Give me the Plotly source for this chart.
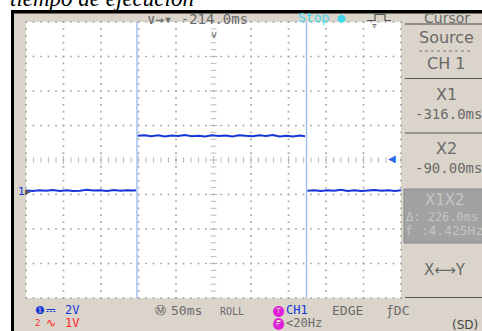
import plotly.graph_objects as go

# ---- scope settings ----
time_per_div = 50.0          # ms/div
volt_per_div = 2.0           # V/div
h_position = -214.0          # ms at screen centre
ch1_offset_divs = 0.9        # ground marker below centre (divs)
trig_level = 1.9             # V
cursor_t = [-316.0, -90.0]   # X1, X2 (ms)

# ---- CH1 capture (ms, V); None splits the edges ----
sig_t = [-464, -455, -446, -437, -428, -419, -410, -401, -392, -383, -374, -365,
         -356, -347, -338, -329, -320, -317, None,
         -315, -306, -297, -288, -279, -270, -261, -252, -243, -234, -225, -216,
         -207, -198, -189, -180, -171, -162, -153, -144, -135, -126, -117, -108,
         -99, -92, None,
         -89, -80, -71, -62, -53, -44, -35, -26, -17, -8, 1, 10, 19, 28, 36]
sig_v = [0.03, 0.0, 0.05, 0.02, 0.06, 0.01, 0.04, 0.0, 0.02, 0.07, 0.03, 0.05,
         0.0, 0.06, 0.02, 0.05, 0.03, 0.04, None,
         3.20, 3.24, 3.18, 3.23, 3.17, 3.22, 3.19, 3.25, 3.18, 3.21, 3.16, 3.23,
         3.19, 3.22, 3.17, 3.24, 3.20, 3.18, 3.23, 3.19, 3.25, 3.17, 3.21, 3.16,
         3.22, 3.18, None,
         0.02, 0.05, 0.0, 0.04, 0.02, 0.07, 0.01, 0.05, 0.0, 0.03, 0.06, 0.02,
         0.05, 0.01, 0.04]

# ---- screen geometry (pixels) ----
W, H = 482, 331
L, R, T, B = 26, 401, 22, 298
PW, PH = R - L, B - T

def px(x):
    return (x - L) / PW

def py(y):
    return (B - y) / PH

t0 = h_position - 5 * time_per_div
t1 = h_position + 5 * time_per_div
v_mid = ch1_offset_divs * volt_per_div
v0 = v_mid - 4 * volt_per_div
v1 = v_mid + 4 * volt_per_div

BEIGE = "#dbd4cb"
GREY_TXT = "#6a6a6a"
DOT = "#a6a6a6"
BLUE = "#1537d6"
MONO = "DejaVu Sans Mono"
SANS = "DejaVu Sans"

fig = go.Figure()

# ---- graticule dots ----
gx, gy = [], []
for k in range(-5, 6):
    if k == 0:
        continue
    tx = h_position + k * time_per_div
    for j in range(0, 41):
        gx.append(tx)
        gy.append(v0 + j * volt_per_div / 5)
for m in range(-4, 5):
    if m == 0:
        continue
    vy = v_mid + m * volt_per_div
    for j in range(0, 51):
        gx.append(t0 + j * time_per_div / 5)
        gy.append(vy)
fig.add_trace(go.Scatter(x=gx, y=gy, mode="markers", cliponaxis=False,
                         marker=dict(symbol="square", size=1.7, color=DOT, line_width=0),
                         hoverinfo="skip", showlegend=False))

# centre cross with fine ticks
cx = [t0 + j * time_per_div / 5 for j in range(51)]
fig.add_trace(go.Scatter(x=cx, y=[v_mid] * len(cx), mode="markers",
                         marker=dict(symbol="line-ns", size=[6 if j % 5 == 0 else 4 for j in range(51)],
                                     line=dict(color=DOT, width=1.1)),
                         hoverinfo="skip", showlegend=False))
cy = [v0 + j * volt_per_div / 5 for j in range(41)]
fig.add_trace(go.Scatter(x=[h_position] * len(cy), y=cy, mode="markers",
                         marker=dict(symbol="line-ew", size=[6 if j % 5 == 0 else 4 for j in range(41)],
                                     line=dict(color=DOT, width=1.1)),
                         hoverinfo="skip", showlegend=False))

# ---- CH1 waveform ----
fig.add_trace(go.Scatter(x=sig_t, y=sig_v, mode="lines", connectgaps=False,
                         line=dict(color=BLUE, width=2), hoverinfo="skip", showlegend=False))

shapes = []
# cursors
for c in cursor_t:
    shapes.append(dict(type="line", xref="x", yref="paper", x0=c, x1=c, y0=0, y1=1,
                       line=dict(color="#a3c0f2", width=1.5), layer="above"))

def rect(x0, y0, x1, y1, fill, line=None, lw=0):
    return dict(type="rect", xref="paper", yref="paper", x0=px(x0), x1=px(x1),
                y0=py(y1), y1=py(y0), fillcolor=fill,
                line=dict(color=line or fill, width=lw), layer="above")

def hline(x0, x1, y, color="#555555", w=1, dash="solid"):
    return dict(type="line", xref="paper", yref="paper", x0=px(x0), x1=px(x1),
                y0=py(y), y1=py(y), line=dict(color=color, width=w, dash=dash), layer="above")

# outer white margin + black bezel
shapes += [
    rect(0, 0, W, 10, "white"),
    rect(0, 0, 11, H, "white"),
    rect(11, 10, W, 13.5, "black"),
    rect(11, 10, 14, H, "black"),
]
# right menu rules
shapes += [
    hline(405, W, 24, "#444444", 1),
    hline(419, 472, 51, "#777777", 1, "dot"),
    hline(405, W, 78.5, "#555555", 1),
    hline(405, W, 133, "#555555", 1),
    hline(405, W, 297.5, "#555555", 1),
]
# greyed X1X2 box
shapes.append(dict(type="path", xref="paper", yref="paper",
                   path="M {a},{b} L {c},{b} L {c},{d} L {a},{d} Z".format(
                       a=px(404), b=py(189), c=px(484), d=py(243)),
                   fillcolor="#a2a2a2", line=dict(color="#8a8a8a", width=1), layer="above"))
# trigger-type pulse icon
pulse = [(367, 20.5), (375, 20.5), (375, 14.5), (385, 14.5), (385, 20.5), (391, 20.5)]
shapes.append(dict(type="path", xref="paper", yref="paper",
                   path="M " + " L ".join("{},{}".format(px(a), py(b)) for a, b in pulse),
                   line=dict(color="#555555", width=1.2), layer="above"))

ann = []

def text(x, y, s, size=13, color=GREY_TXT, font=MONO, xanchor="center", yref="paper", style="normal"):
    ann.append(dict(x=px(x), y=(py(y) if yref == "paper" else y), xref="paper", yref=yref,
                    text=s, showarrow=False, xanchor=xanchor, yanchor="middle",
                    font=dict(family=font, size=size, color=color, style=style)))

# caption above the screen (mostly cut off)
text(8, -2, "tiempo de ejecución", size=23, color="black", font="Liberation Serif",
     xanchor="left", style="italic")

# top status bar
text(145, 18.5, "∨→▾ {:.1f}ms".format(h_position), size=14, xanchor="left")
text(296, 18, "Stop ●", size=13, color="#3fd6ec", xanchor="left")
text(447, 17.5, "Cursor", size=14, font=SANS)

# right menu
dt = cursor_t[1] - cursor_t[0]
text(446, 37, "Source", size=16, font=SANS)
text(446, 63, "CH 1", size=16, font=SANS)
text(446, 94, "X1", size=16, font=SANS)
text(413, 114, "{:.1f}ms".format(cursor_t[0]), size=14, xanchor="left")
text(446, 148, "X2", size=16, font=SANS)
text(413, 168, "{:.2f}ms".format(cursor_t[1]), size=14, xanchor="left")
text(445, 200, "X1X2", size=15, font=SANS, color="#c4c4c4")
text(404, 216.5, "Δ: {:.1f}ms".format(dt), size=12, xanchor="left", color="#c4c4c4")
text(403, 230.5, "f :{:.3f}Hz".format(1000.0 / dt), size=13, xanchor="left", color="#c4c4c4")
text(445, 270, "X⟷Y", size=15, font=SANS)
text(465, 325, "(SD)", size=12, font=SANS, color="#444444")

# bottom status bar
text(33, 310, "❶", size=11, color=BLUE, xanchor="left")
text(44, 310, "⎓", size=12, color=BLUE, xanchor="left")
text(63, 310, "{:g}V".format(volt_per_div), size=12, color=BLUE, xanchor="left")
text(33, 323, "2", size=9, color="#ff2a2a", xanchor="left")
text(44, 323, "∿", size=12, color="#ff2a2a", xanchor="left")
text(63, 323, "1V", size=12, color="#ff2a2a", xanchor="left")
text(153, 310, "Ⓜ", size=11, color="#555555", xanchor="left")
text(169, 310, "{:g}ms".format(time_per_div), size=13, xanchor="left")
text(218, 311, "ROLL", size=10, xanchor="left")
text(271, 310, "🅣", size=11, color="#e020d8", xanchor="left")
text(284, 310, "CH1", size=12, color=BLUE, xanchor="left")
text(330, 310, "EDGE", size=13, xanchor="left")
text(384, 310, "ƒDC", size=13, xanchor="left")
text(271, 323, "🅕", size=11, color="#e020d8", xanchor="left")
text(284, 323, "<20Hz", size=12, xanchor="left")

# markers: ground, trigger level, trigger position
ann.append(dict(x=px(15.5), y=0.0, xref="paper", yref="y", text="1", showarrow=False,
                font=dict(family=SANS, size=11, color=BLUE)))
ann.append(dict(x=px(23), y=0.0, xref="paper", yref="y", text="▸", showarrow=False,
                font=dict(family=SANS, size=11, color="#555555")))
ann.append(dict(x=px(397.5), y=trig_level, xref="paper", yref="y", text="◀", showarrow=False,
                font=dict(family=SANS, size=10, color="#2a6ae8")))
ann.append(dict(x=h_position, y=py(26.5), xref="x", yref="paper", text="∨", showarrow=False,
                font=dict(family=SANS, size=11, color="#777777")))
text(374, 25, "▿", size=11, color="#555555")

fig.update_layout(
    width=W, height=H,
    margin=dict(l=L, r=W - R, t=T, b=H - B, pad=0),
    paper_bgcolor=BEIGE, plot_bgcolor="white",
    xaxis=dict(range=[t0, t1], showgrid=False, zeroline=False, showticklabels=False,
               ticks="", fixedrange=True),
    yaxis=dict(range=[v0, v1], showgrid=False, zeroline=False, showticklabels=False,
               ticks="", fixedrange=True),
    shapes=shapes, annotations=ann, showlegend=False,
)

fig.write_html("out.html")
